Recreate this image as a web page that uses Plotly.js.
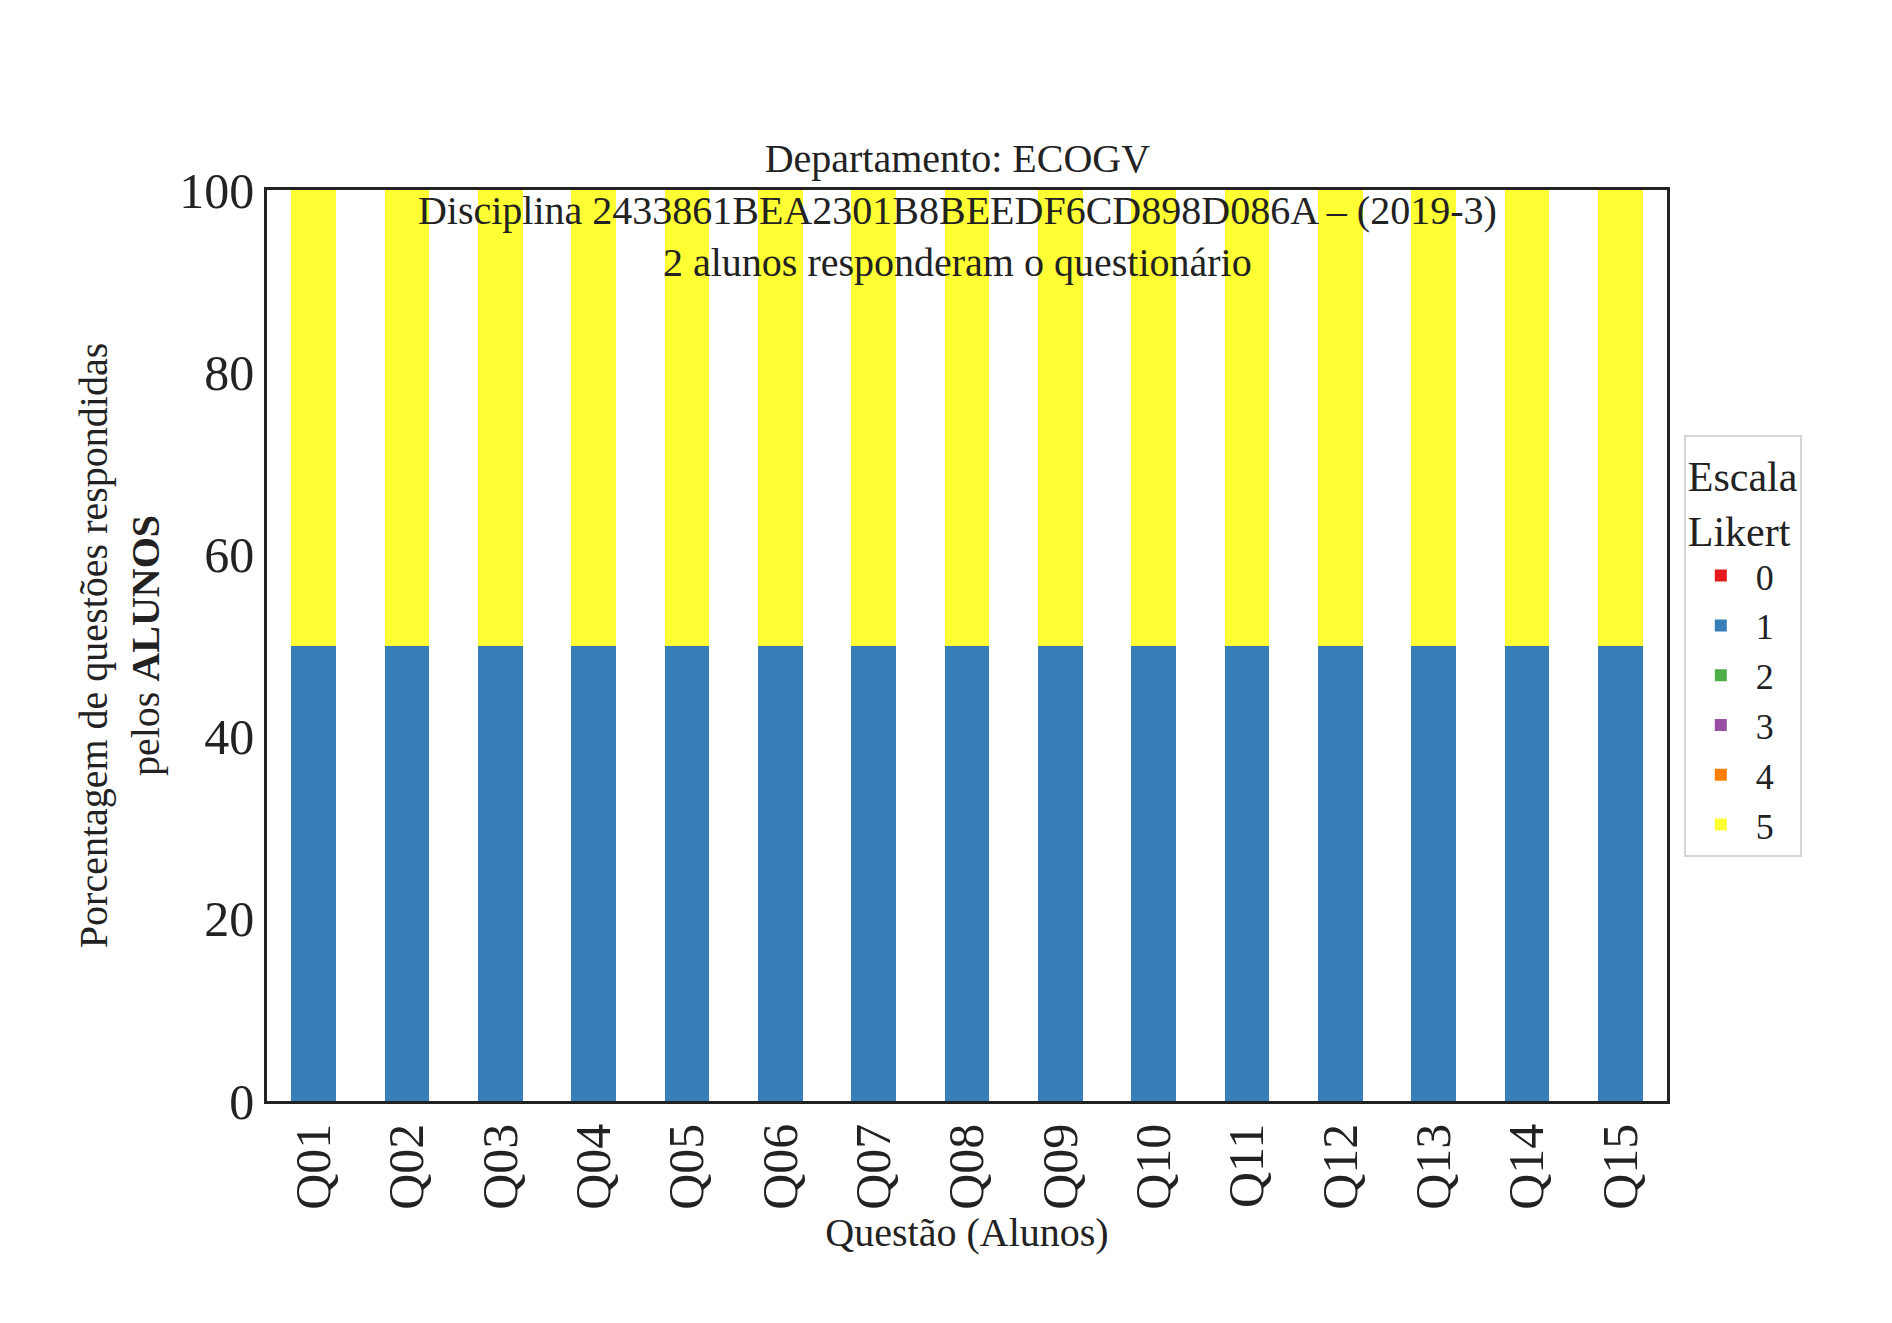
<!DOCTYPE html>
<html><head><script src="https://cdn.plot.ly/plotly-3.0.1.min.js"></script></head>
<body style="margin:0">
<div id="c" style="width:1892px;height:1323px"></div>
<script>
const questions = ["Q01","Q02","Q03","Q04","Q05","Q06","Q07","Q08","Q09","Q10","Q11","Q12","Q13","Q14","Q15"];
const levels = ["0","1","2","3","4","5"];
const colors = ["#e41a1c","#377eb8","#4daf4a","#984ea3","#ff7f00","#ffff33"];
const pct0 = [0,0,0,0,0,0,0,0,0,0,0,0,0,0,0];
const pct1 = [50,50,50,50,50,50,50,50,50,50,50,50,50,50,50];
const pct2 = [0,0,0,0,0,0,0,0,0,0,0,0,0,0,0];
const pct3 = [0,0,0,0,0,0,0,0,0,0,0,0,0,0,0];
const pct4 = [0,0,0,0,0,0,0,0,0,0,0,0,0,0,0];
const pct5 = [50,50,50,50,50,50,50,50,50,50,50,50,50,50,50];
const series = [pct0,pct1,pct2,pct3,pct4,pct5];
const F = "Liberation Serif, Times New Roman, serif";
const data = series.map((v,i)=>({type:"bar",x:questions,y:v,name:levels[i],marker:{color:colors[i]}}));
Plotly.newPlot("c",data,{
  width:1892,height:1323,barmode:"stack",bargap:0.52,
  paper_bgcolor:"white",plot_bgcolor:"white",
  font:{family:F,color:"#222"},
  margin:{l:267,r:225,t:190,b:222},
  title:{text:"Departamento: ECOGV<br>Disciplina 2433861BEA2301B8BEEDF6CD898D086A – (2019-3)<br>2 alunos responderam o questionário",font:{size:40,family:F},x:0.506,xanchor:"center",yref:"paper",y:1,yanchor:"bottom",pad:{b:18}},
  xaxis:{tickangle:-90,tickfont:{size:50,family:F},showline:true,linecolor:"#222",linewidth:2.5,mirror:true,ticks:"",
    title:{text:"Questão (Alunos)",font:{size:40,family:F},standoff:8}},
  yaxis:{range:[0,100],tickvals:[0,20,40,60,80,100],tickfont:{size:50,family:F},showline:true,linecolor:"#222",linewidth:2.5,mirror:true,showgrid:false,zeroline:false,ticks:"",
    title:{text:"Porcentagem de questões respondidas<br>pelos <b>ALUNOS</b>",font:{size:40,family:F},standoff:8}},
  legend:{title:{text:"Escala<br>Likert",font:{size:42,family:F}},font:{size:36,family:F},traceorder:"normal",
    x:1.012,xanchor:"left",y:0.5,yanchor:"middle",bordercolor:"#d5d5d5",borderwidth:2,itemwidth:60,tracegroupgap:14}
},{displayModeBar:false});
</script></body></html>
